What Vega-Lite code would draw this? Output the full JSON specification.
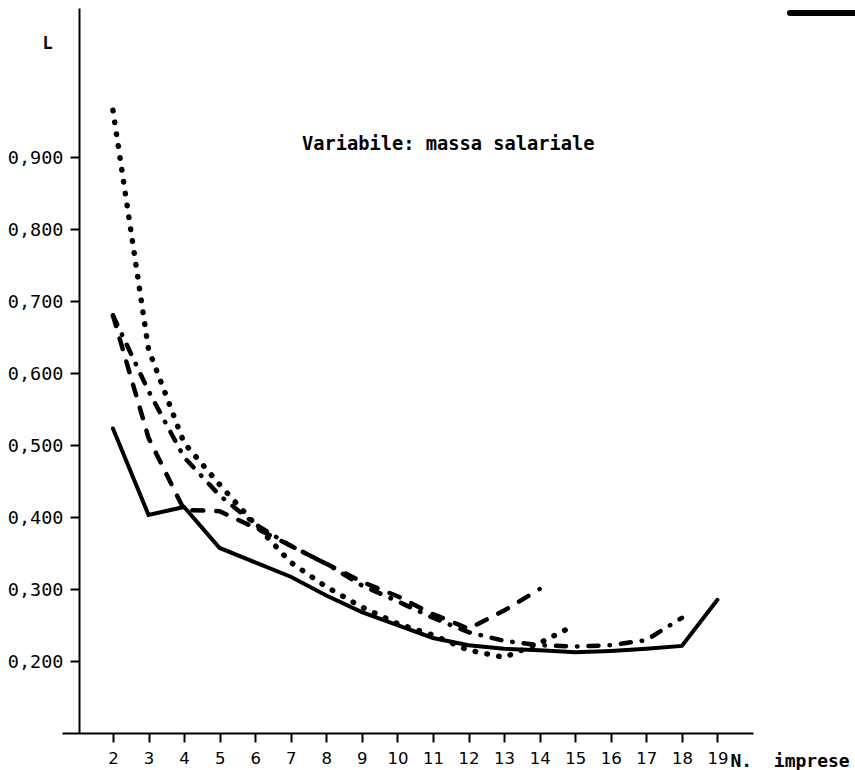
{
  "$schema": "https://vega.github.io/schema/vega-lite/v6.json",
  "width": 691,
  "height": 725,
  "autosize": "none",
  "padding": {"left": 62, "top": 8, "right": 102, "bottom": 37},
  "background": "white",
  "config": {"view": {"stroke": null}, "axis": {"grid": false}},
  "title": {
    "text": "Variabile: massa salariale",
    "anchor": "start",
    "frame": "group",
    "orient": "top",
    "offset": 0,
    "dx": 240,
    "dy": 155,
    "baseline": "middle",
    "font": "DejaVu Sans Mono",
    "fontSize": 18.7,
    "fontWeight": "bold",
    "color": "black"
  },
  "datasets": {
    "curves": [
      {"s": "solid", "x": 2, "y": 0.523},
      {"s": "solid", "x": 3, "y": 0.403},
      {"s": "solid", "x": 4, "y": 0.414},
      {"s": "solid", "x": 5, "y": 0.357},
      {"s": "solid", "x": 6, "y": 0.337},
      {"s": "solid", "x": 7, "y": 0.317},
      {"s": "solid", "x": 8, "y": 0.291},
      {"s": "solid", "x": 9, "y": 0.268},
      {"s": "solid", "x": 10, "y": 0.25},
      {"s": "solid", "x": 11, "y": 0.232},
      {"s": "solid", "x": 12, "y": 0.222},
      {"s": "solid", "x": 13, "y": 0.217},
      {"s": "solid", "x": 14, "y": 0.215},
      {"s": "solid", "x": 15, "y": 0.212},
      {"s": "solid", "x": 16, "y": 0.214},
      {"s": "solid", "x": 17, "y": 0.217},
      {"s": "solid", "x": 18, "y": 0.221},
      {"s": "solid", "x": 19, "y": 0.285},
      {"s": "dotted", "x": 2, "y": 0.965},
      {"s": "dotted", "x": 3, "y": 0.633},
      {"s": "dotted", "x": 4, "y": 0.503},
      {"s": "dotted", "x": 5, "y": 0.445},
      {"s": "dotted", "x": 6, "y": 0.39},
      {"s": "dotted", "x": 7, "y": 0.337},
      {"s": "dotted", "x": 8, "y": 0.303},
      {"s": "dotted", "x": 9, "y": 0.275},
      {"s": "dotted", "x": 10, "y": 0.252},
      {"s": "dotted", "x": 11, "y": 0.236},
      {"s": "dotted", "x": 12, "y": 0.215},
      {"s": "dotted", "x": 13, "y": 0.205},
      {"s": "dotted", "x": 14, "y": 0.225},
      {"s": "dotted", "x": 15, "y": 0.25},
      {"s": "dashed", "x": 2, "y": 0.68},
      {"s": "dashed", "x": 3, "y": 0.51},
      {"s": "dashed", "x": 4, "y": 0.41},
      {"s": "dashed", "x": 5, "y": 0.408},
      {"s": "dashed", "x": 6, "y": 0.385},
      {"s": "dashed", "x": 7, "y": 0.36},
      {"s": "dashed", "x": 8, "y": 0.335},
      {"s": "dashed", "x": 9, "y": 0.31},
      {"s": "dashed", "x": 10, "y": 0.29},
      {"s": "dashed", "x": 11, "y": 0.265},
      {"s": "dashed", "x": 12, "y": 0.245},
      {"s": "dashed", "x": 13, "y": 0.27},
      {"s": "dashed", "x": 14, "y": 0.3},
      {"s": "dashdot", "x": 2, "y": 0.68},
      {"s": "dashdot", "x": 3, "y": 0.575},
      {"s": "dashdot", "x": 4, "y": 0.483},
      {"s": "dashdot", "x": 5, "y": 0.43},
      {"s": "dashdot", "x": 6, "y": 0.39},
      {"s": "dashdot", "x": 7, "y": 0.36},
      {"s": "dashdot", "x": 8, "y": 0.335},
      {"s": "dashdot", "x": 9, "y": 0.305},
      {"s": "dashdot", "x": 10, "y": 0.283},
      {"s": "dashdot", "x": 11, "y": 0.26},
      {"s": "dashdot", "x": 12, "y": 0.24},
      {"s": "dashdot", "x": 13, "y": 0.228},
      {"s": "dashdot", "x": 14, "y": 0.222},
      {"s": "dashdot", "x": 15, "y": 0.22},
      {"s": "dashdot", "x": 16, "y": 0.222},
      {"s": "dashdot", "x": 17, "y": 0.229},
      {"s": "dashdot", "x": 18, "y": 0.26}
    ],
    "bar": [{"x": 21.04, "x2": 22.9, "y": 1.1}]
  },
  "encoding": {
    "x": {
      "field": "x", "type": "quantitative",
      "scale": {"domain": [0.567, 20], "nice": false, "zero": false},
      "axis": {
        "values": [2, 3, 4, 5, 6, 7, 8, 9, 10, 11, 12, 13, 14, 15, 16, 17, 18, 19],
        "title": "N.\u00a0\u00a0imprese",
        "titleX": 668, "titleY": 28, "titleAlign": "left", "titleBaseline": "middle", "titleAnchor": "start",
        "titleFont": "DejaVu Sans Mono", "titleFontSize": 18, "titleFontWeight": "bold", "titleColor": "black",
        "labelFont": "DejaVu Sans", "labelFontSize": 16.5, "labelColor": "black", "labelPadding": 8,
        "labelFlush": false, "labelOverlap": false,
        "tickSize": 9, "tickColor": "black", "tickWidth": 2,
        "domainColor": "black", "domainWidth": 2
      }
    },
    "y": {
      "field": "y", "type": "quantitative",
      "scale": {"domain": [0.1, 1.107], "nice": false, "zero": false},
      "axis": {
        "values": [0.2, 0.3, 0.4, 0.5, 0.6, 0.7, 0.8, 0.9],
        "labelExpr": "replace(format(datum.value, '.3f'), '.', ',')",
        "offset": -17,
        "title": "L", "titleAngle": 0, "titleX": -32, "titleY": 35, "titleAlign": "center", "titleBaseline": "middle",
        "titleFont": "DejaVu Sans Mono", "titleFontSize": 17, "titleFontWeight": "bold", "titleColor": "black",
        "labelFont": "DejaVu Sans Mono", "labelFontSize": 18.5, "labelColor": "black", "labelPadding": 7,
        "tickSize": 9, "tickColor": "black", "tickWidth": 2,
        "domainColor": "black", "domainWidth": 2
      }
    }
  },
  "layer": [
    {
      "data": {"name": "curves"},
      "transform": [{"filter": "datum.s === 'dotted'"}],
      "mark": {"type": "line", "color": "black", "strokeWidth": 5.5, "strokeCap": "round", "strokeDash": [0.5, 11.5]}
    },
    {
      "data": {"name": "curves"},
      "transform": [{"filter": "datum.s === 'dashed'"}],
      "mark": {"type": "line", "color": "black", "strokeWidth": 4.5, "strokeCap": "round", "strokeDash": [11, 13]}
    },
    {
      "data": {"name": "curves"},
      "transform": [{"filter": "datum.s === 'dashdot'"}],
      "mark": {"type": "line", "color": "black", "strokeWidth": 4.5, "strokeCap": "round", "strokeDash": [10, 11, 0.5, 11]}
    },
    {
      "data": {"name": "curves"},
      "transform": [{"filter": "datum.s === 'solid'"}],
      "mark": {"type": "line", "color": "black", "strokeWidth": 4, "strokeCap": "round", "strokeJoin": "miter"}
    },
    {
      "data": {"name": "bar"},
      "mark": {"type": "rule", "color": "black", "strokeWidth": 6, "strokeCap": "round"},
      "encoding": {
        "x2": {"field": "x2"}
      }
    }
  ]
}
